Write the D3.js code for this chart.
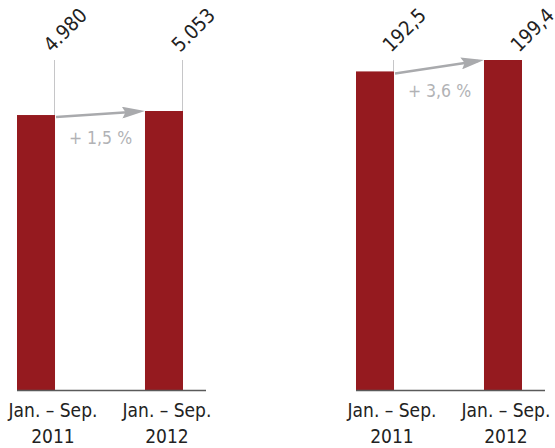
<!DOCTYPE html>
<html>
<head>
<meta charset="utf-8">
<script src="https://cdn.jsdelivr.net/npm/d3@7"></script>
<style>
  body { margin: 0; background: #fff; }
  text { font-family: "DejaVu Sans Condensed", "DejaVu Sans", sans-serif; }
</style>
</head>
<body>
<svg id="chart" width="555" height="448"></svg>
<script>
// data
var periods = ["Jan. – Sep. 2011", "Jan. – Sep. 2012"];
var catLines = [["Jan. – Sep.", "2011"], ["Jan. – Sep.", "2012"]];
var leftValues = [4980, 5053];
var rightValues = [192.5, 199.4];
var leftLabels = ["4.980", "5.053"];
var rightLabels = ["192,5", "199,4"];

var svg = d3.select("#chart");
var baseY = 390;
var de = d3.formatLocale({decimal: ",", thousands: ".", grouping: [3], currency: ["", "€"]});
var pct = de.format(".1f");

var panels = [
  {values: leftValues, labels: leftLabels, x0: 17, x1: 183, top: 111},
  {values: rightValues, labels: rightLabels, x0: 356, x1: 522, top: 60}
];

// category label shift relative to bar centre
var catShift = [17, 3];

svg.append("defs").append("marker")
    .attr("id", "head")
    .attr("viewBox", "0 0 10 10")
    .attr("preserveAspectRatio", "none")
    .attr("refX", 10)
    .attr("refY", 5)
    .attr("markerUnits", "userSpaceOnUse")
    .attr("markerWidth", 23)
    .attr("markerHeight", 12)
    .attr("orient", "auto")
  .append("path")
    .attr("d", "M0,0 L10,5 L0,10 L1.5,5 Z")
    .attr("fill", "#a9aaad");

panels.forEach(function(p) {
  var x = d3.scaleBand().domain(periods).range([p.x0, p.x1]).paddingInner(0.703).paddingOuter(0);
  var y = d3.scaleLinear().domain([0, d3.max(p.values)]).range([baseY, p.top]);
  var g = svg.append("g");
  var rows = periods.map(function(c, i) { return {cat: c, v: p.values[i], label: p.labels[i], i: i}; });

  // leader lines
  g.selectAll("line.lead").data(rows).enter().append("line")
      .attr("x1", d => x(d.cat) + x.bandwidth() - 0.5)
      .attr("x2", d => x(d.cat) + x.bandwidth() - 0.5)
      .attr("y1", 60)
      .attr("y2", d => y(d.v))
      .attr("stroke", "#c6c6c8")
      .attr("stroke-width", 1);

  g.selectAll("rect").data(rows).enter().append("rect")
      .attr("x", d => x(d.cat))
      .attr("y", d => y(d.v))
      .attr("width", x.bandwidth())
      .attr("height", d => baseY - y(d.v))
      .attr("fill", "#951a1f");

  // baseline
  g.append("line")
      .attr("x1", p.x0).attr("x2", p.x1 + 23)
      .attr("y1", baseY + 0.5).attr("y2", baseY + 0.5)
      .attr("stroke", "#5a5a5a")
      .attr("stroke-width", 1.3);

  // value labels rotated
  g.selectAll("text.val").data(rows).enter().append("text")
      .attr("transform", d => "translate(" + (x(d.cat) + x.bandwidth() - 3) + ",53) rotate(-45)")
      .attr("font-size", 20)
      .attr("fill", "#222")
      .text(d => d.label);

  // category labels
  rows.forEach(function(d) {
    var t = g.append("text")
        .attr("text-anchor", "middle")
        .attr("font-size", 19)
        .attr("fill", "#222");
    var cx = x(d.cat) + x.bandwidth() / 2 + catShift[d.i];
    t.append("tspan").attr("x", cx).attr("y", 417).text(catLines[d.i][0]);
    t.append("tspan").attr("x", cx).attr("y", 443).text(catLines[d.i][1]);
  });

  // growth arrow
  var ax1 = x(periods[0]) + x.bandwidth() + 1, ay1 = y(p.values[0]) + 2;
  var ax2 = x(periods[1]), ay2 = y(p.values[1]);
  g.append("line")
      .attr("x1", ax1).attr("y1", ay1)
      .attr("x2", ax2 - 6).attr("y2", ay2 + (ay1 - ay2) * 6 / (ax2 - ax1))
      .attr("stroke", "#a9aaad")
      .attr("stroke-width", 2.5);
  g.append("line")
      .attr("x1", ax1).attr("y1", ay1)
      .attr("x2", ax2).attr("y2", ay2)
      .attr("stroke", "none")
      .attr("marker-end", "url(#head)");

  var growth = (p.values[1] / p.values[0] - 1) * 100;
  g.append("text")
      .attr("x", (ax1 + ax2) / 2)
      .attr("y", (ay1 + ay2) / 2 + 30)
      .attr("text-anchor", "middle")
      .attr("font-size", 17.5)
      .attr("fill", "#b1b2b5")
      .text("+ " + pct(growth) + " %");
});
</script>
</body>
</html>
